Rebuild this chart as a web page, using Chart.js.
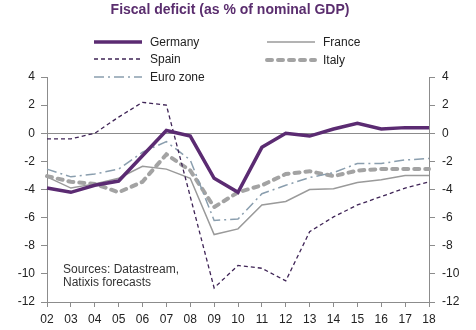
<!DOCTYPE html>
<html>
<head>
<meta charset="utf-8">
<script src="https://cdn.jsdelivr.net/npm/chart.js@4/dist/chart.umd.min.js"></script>
<style>
  html, body { margin: 0; padding: 0; background: #fff; }
  #wrap { position: relative; width: 476px; height: 330px; }
</style>
</head>
<body>
<div id="wrap"><canvas id="deficitChart" width="476" height="330"></canvas></div>
<script>
const years = ["02","03","04","05","06","07","08","09","10","11","12","13","14","15","16","17","18"];

const germany = [-3.9,-4.2,-3.7,-3.4,-1.6,0.2,-0.2,-3.2,-4.2,-1.0,0.0,-0.2,0.3,0.7,0.3,0.4,0.4];
const france  = [-3.1,-3.9,-3.6,-3.2,-2.35,-2.55,-3.2,-7.2,-6.8,-5.1,-4.85,-4.0,-3.95,-3.5,-3.3,-3.0,-3.0];
const spain   = [-0.4,-0.4,0.0,1.15,2.2,2.0,-4.5,-11.0,-9.4,-9.6,-10.5,-7.0,-5.95,-5.1,-4.5,-3.9,-3.45];
const italy   = [-3.05,-3.45,-3.6,-4.2,-3.45,-1.5,-2.65,-5.25,-4.2,-3.7,-2.9,-2.7,-3.05,-2.65,-2.55,-2.55,-2.55];
const eurozone = [-2.55,-3.1,-2.9,-2.55,-1.35,-0.6,-1.9,-6.2,-6.1,-4.3,-3.7,-3.15,-2.8,-2.15,-2.15,-1.9,-1.8];

const yTicks = [4,2,0,-2,-4,-6,-8,-10,-12];

const FONT = "'Liberation Sans', Arial, sans-serif";
const AXIS = "#8c8c8c";

function line(label, data, color, width, dash, order, cap) {
  return {
    label: label,
    data: data,
    borderColor: color,
    borderWidth: width,
    borderDash: dash,
    borderCapStyle: cap || "butt",
    pointRadius: 0,
    tension: 0,
    fill: false,
    order: order
  };
}

// title, legend and source note drawn straight onto the canvas
const decorations = {
  id: "decorations",
  afterDraw(chart) {
    const c = chart.ctx;
    c.save();
    c.fillStyle = "#5a2d6e";
    c.font = "bold 14px " + FONT;
    c.textAlign = "center";
    c.textBaseline = "middle";
    c.fillText("Fiscal deficit (as % of nominal GDP)", 230, 10);

    const items = [
      { ds: 0, x: 94, y: 42 },
      { ds: 2, x: 94, y: 59 },
      { ds: 4, x: 94, y: 77 },
      { ds: 1, x: 267, y: 42 },
      { ds: 3, x: 267, y: 60 }
    ];
    c.font = "12px " + FONT;
    c.textAlign = "left";
    items.forEach(it => {
      const d = chart.data.datasets[it.ds];
      c.beginPath();
      c.strokeStyle = d.borderColor;
      c.lineWidth = d.borderWidth;
      c.setLineDash(d.borderDash || []);
      c.lineCap = d.borderCapStyle;
      c.moveTo(it.x, it.y);
      c.lineTo(it.x + 48, it.y);
      c.stroke();
      c.setLineDash([]);
      c.fillStyle = "#222";
      c.fillText(d.label, it.x + 56, it.y + 1);
    });

    c.fillStyle = "#333";
    c.fillText("Sources: Datastream,", 63, 270);
    c.fillText("Natixis forecasts", 63, 283);
    c.restore();
  }
};

const ctx = document.getElementById("deficitChart");
new Chart(ctx, {
  type: "line",
  data: {
    labels: years,
    datasets: [
      line("Germany", germany, "#5b2b72", 3.5, [], 0),
      line("France", france, "#9a9a9a", 1.5, [], 4),
      line("Spain", spain, "#3f2456", 1.3, [4, 3], 1),
      line("Italy", italy, "#a3a3a3", 4, [5, 6], 3, "round"),
      line("Euro zone", eurozone, "#8a9eae", 1.5, [10, 4, 2, 4], 2)
    ]
  },
  options: {
    responsive: false,
    animation: false,
    layout: { padding: { top: 77, left: 0, right: 0, bottom: 0 } },
    plugins: { legend: { display: false }, tooltip: { enabled: false } },
    scales: {
      x: {
        offset: false,
        grid: { drawOnChartArea: false, tickLength: 5, color: AXIS },
        border: { color: AXIS },
        ticks: { color: "#222", font: { family: FONT, size: 12 }, padding: 5, maxRotation: 0, autoSkip: false },
        afterFit(s) { s.height = 28; }
      },
      y: {
        position: "left",
        min: -12, max: 4,
        afterBuildTicks(s) { s.ticks = yTicks.map(v => ({ value: v })); },
        grid: {
          drawOnChartArea: true,
          tickLength: 6,
          color: c => (c.tick && c.tick.value === 0 ? AXIS : "rgba(0,0,0,0)"),
          tickColor: AXIS
        },
        border: { color: AXIS },
        ticks: { color: "#222", font: { family: FONT, size: 12 }, padding: 6 },
        afterFit(s) { s.width = 47; }
      },
      y2: {
        position: "right",
        min: -12, max: 4,
        afterBuildTicks(s) { s.ticks = yTicks.map(v => ({ value: v })); },
        grid: { drawOnChartArea: false, tickLength: 6, color: AXIS },
        border: { color: AXIS },
        ticks: { color: "#222", font: { family: FONT, size: 12 }, padding: 7 },
        afterFit(s) { s.width = 47; }
      }
    }
  },
  plugins: [decorations]
});
</script>
</body>
</html>
